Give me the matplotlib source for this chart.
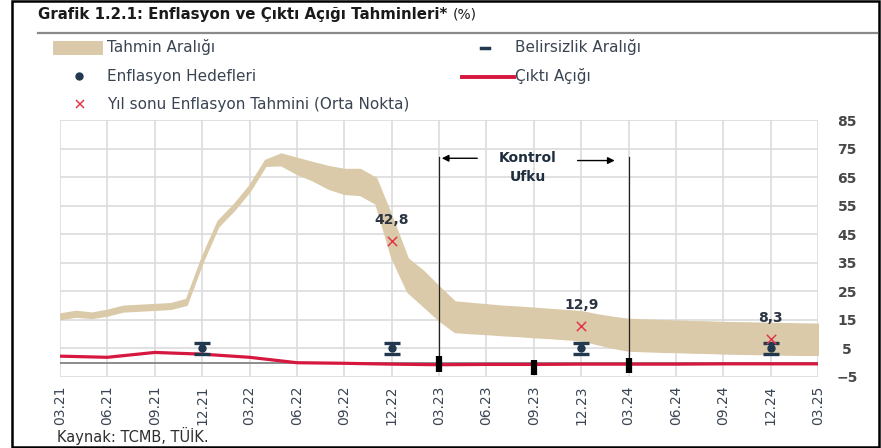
import matplotlib.pyplot as plt
from matplotlib.lines import Line2D
from matplotlib.patches import Rectangle
import numpy as np

plt.rcParams['font.family'] = ['DejaVu Sans']

# Tahmin araligi: aylik alt/ust sinirlar, 03.21 - 03.25 (49 ay)
band_alt = [15.4, 16.3, 15.8, 16.7, 18.1, 18.4, 18.7, 19.0, 20.4, 35.2,
            47.8, 53.5, 60.2, 69.1, 69.3, 66.3, 64.0, 61.1, 59.3, 58.9,
            55.8, 37.0, 25.0, 20.0, 15.0, 10.9, 10.5, 10.2, 9.8, 9.5,
            9.1, 8.8, 8.4, 8.0, 6.7, 5.4, 4.4, 4.2, 4.0, 3.9,
            3.7, 3.6, 3.4, 3.3, 3.2, 3.1, 3.0, 2.9, 2.9]
band_ust = [17.1, 18.0, 17.4, 18.4, 19.8, 20.1, 20.4, 20.7, 22.2, 37.0,
            49.6, 55.3, 62.0, 70.9, 73.1, 71.6, 70.1, 68.7, 67.7, 67.7,
            64.6, 51.0, 36.5, 32.0, 26.5, 21.3, 20.8, 20.3, 19.8, 19.5,
            19.1, 18.7, 18.3, 17.9, 16.8, 15.9, 15.2, 15.0, 14.8, 14.6,
            14.4, 14.3, 14.1, 14.0, 13.9, 13.8, 13.7, 13.6, 13.5]

# Ceyreklik etiketler ve cikti acigi
ceyrek_etiket = ['03.21', '06.21', '09.21', '12.21', '03.22', '06.22', '09.22', '12.22',
                 '03.23', '06.23', '09.23', '12.23', '03.24', '06.24', '09.24', '12.24', '03.25']
cikti_acigi = [2.3, 1.9, 3.6, 3.0, 1.9, 0.0, -0.2, -0.5, -0.7, -0.6, -0.6, -0.5,
               -0.5, -0.5, -0.4, -0.4, -0.4]

# Enflasyon hedefleri ve belirsizlik araligi (yil sonlari)
hedef_ay = [9, 21, 33, 45]
hedef = [5, 5, 5, 5]
hedef_alt = [3, 3, 3, 3]
hedef_ust = [7, 7, 7, 7]

# Yil sonu tahminleri (orta nokta)
tahmin_ay = [21, 33, 45]
tahmin = [42.8, 12.9, 8.3]
tahmin_etiket = ['42,8', '12,9', '8,3']

# Kontrol ufku ve sifir cizgisi uzerindeki siyah isaretler
ufuk_ay = [24, 36]
isaret_ay = [24, 30, 36]
isaret_alt = [-3.1, -4.3, -3.7]
isaret_ust = [2.3, 0.9, 1.5]

W, H = 881, 448
fig = plt.figure(figsize=(W / 100, H / 100), dpi=100)


def fx(px):
    return px / W


def fy(py):
    return 1 - py / H


ax = fig.add_axes([fx(60), fy(377), fx(818) - fx(60), fy(120) - fy(377)])

aylar = np.arange(len(band_alt))
ceyrek = np.arange(0, len(band_alt), 3)

TAN = '#DBCAA9'
KIRMIZI = '#D6173F'
LACIVERT = '#22384F'
YAZI = '#3A4452'

ax.fill_between(aylar, band_alt, band_ust, color=TAN, lw=1.6, edgecolor=TAN, zorder=2)
ax.axhline(0, color='#8C8C8C', lw=1.4, zorder=3)
ax.plot(ceyrek, cikti_acigi, color=KIRMIZI, lw=2.3, zorder=4)

# belirsizlik araligi
ax.errorbar(hedef_ay, hedef,
            yerr=[np.array(hedef) - np.array(hedef_alt), np.array(hedef_ust) - np.array(hedef)],
            fmt='o', color=LACIVERT, ms=5, elinewidth=0, capsize=5.5, capthick=2.4, zorder=6)

ax.scatter(tahmin_ay, tahmin, marker='x', color='#E0394B', s=45, lw=1.1, zorder=7)
for a, v, t in zip(tahmin_ay, tahmin, tahmin_etiket):
    ax.text(a, v + 7.3, t, ha='center', va='center', fontsize=10, fontweight='bold',
            color='#2B3440', zorder=8)

for a in ufuk_ay:
    ax.plot([a, a], [72, 0], color='#222222', lw=0.9, zorder=5)
for a, lo, hi in zip(isaret_ay, isaret_alt, isaret_ust):
    ax.plot([a, a], [lo, hi], color='black', lw=4.5, solid_capstyle='butt', zorder=8)

ax.annotate('', xy=(24, 71.6), xytext=(26.6, 71.6),
            arrowprops=dict(arrowstyle='-|>', color='black', lw=1.0, mutation_scale=10))
ax.annotate('', xy=(35.3, 70.8), xytext=(32.6, 70.8),
            arrowprops=dict(arrowstyle='-|>', color='black', lw=1.0, mutation_scale=10))
ax.text(29.6, 71.6, 'Kontrol', ha='center', va='center', fontsize=10, fontweight='bold', color='#1F2E3F')
ax.text(29.6, 65.2, 'Ufku', ha='center', va='center', fontsize=10, fontweight='bold', color='#1F2E3F')

ax.set_xlim(0, 48)
ax.set_ylim(-5, 85)
ax.set_xticks(ceyrek)
ax.set_xticklabels(ceyrek_etiket, rotation=90, fontsize=10, color=YAZI)
ax.set_yticks(np.arange(-5, 86, 10))
ax.yaxis.tick_right()
ax.tick_params(axis='y', length=0, pad=21, labelsize=10, labelcolor='#484848')
ax.tick_params(axis='x', length=0, pad=6)
for lab in ax.get_yticklabels():
    lab.set_horizontalalignment('center')
    lab.set_fontweight('bold')
ax.grid(True, color='#DCDCDC', lw=1.2, zorder=0)
ax.set_axisbelow(True)
for s in ax.spines.values():
    s.set_visible(False)

# baslik
fig.text(fx(38), fy(14), 'Grafik 1.2.1: Enflasyon ve Çıktı Açığı Tahminleri*', fontsize=10.8,
         fontweight='bold', color='#1A1A1A', va='center', ha='left')
fig.text(fx(453), fy(15), '(%)', fontsize=10, color='#1A1A1A', va='center', ha='left')
fig.add_artist(Line2D([fx(38), fx(877)], [fy(33), fy(33)], color='#8A8A8A', lw=1.6))

# lejant
fig.add_artist(Rectangle((fx(53), fy(55)), fx(50), 14 / H, color=TAN, lw=0))
fig.text(fx(107), fy(47), 'Tahmin Aralığı', fontsize=11, color=YAZI, va='center')
fig.add_artist(Line2D([fx(79)], [fy(76)], marker='o', ms=5, color=LACIVERT, lw=0))
fig.text(fx(107), fy(76), 'Enflasyon Hedefleri', fontsize=11, color=YAZI, va='center')
fig.add_artist(Line2D([fx(80)], [fy(104)], marker='x', ms=6, mew=1.1, color='#E0394B', lw=0))
fig.text(fx(107), fy(104), 'Yıl sonu Enflasyon Tahmini (Orta Nokta)', fontsize=11, color=YAZI, va='center')
fig.add_artist(Line2D([fx(481), fx(489)], [fy(48), fy(48)], color=LACIVERT, lw=2.5))
fig.text(fx(515), fy(47), 'Belirsizlik Aralığı', fontsize=11, color=YAZI, va='center')
fig.add_artist(Line2D([fx(462), fx(514)], [fy(77), fy(77)], color=KIRMIZI, lw=2.8))
fig.text(fx(515), fy(76), 'Çıktı Açığı', fontsize=11, color=YAZI, va='center')

fig.text(fx(57), fy(436), 'Kaynak: TCMB, TÜİK.', fontsize=10.5, color='#2E2E2E', va='center')

# cerceve
fig.add_artist(Rectangle((fx(12), fy(447)), fx(879) - fx(12), fy(1) - fy(447),
                         fill=False, ec='black', lw=1.8))

fig.savefig('out.png', dpi=100)
